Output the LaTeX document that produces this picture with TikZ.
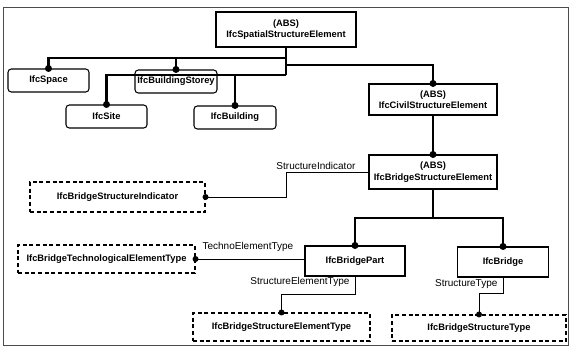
\documentclass[tikz,border=0pt]{standalone}
\usepackage{fontspec}
\setmainfont{Liberation Sans}
\usetikzlibrary{positioning,calc}

\begin{document}
\begin{tikzpicture}[x=0.75pt,y=-0.75pt,
    ent/.style={draw, line width=0.8pt, align=center, inner sep=0pt,
        font=\fontsize{7}{8.5}\selectfont\bfseries},
    entr/.style={ent, rounded corners=2.5pt},
    enttype/.style={ent, dash pattern=on 3pt off 2pt},
    inh/.style={line width=2pt},
    attr/.style={line width=0.6pt},
    lbl/.style={font=\fontsize{7.5}{9}\selectfont, inner sep=1pt}]
    \useasboundingbox (0,0) rectangle (570,347);
    \draw[line width=0.5pt, black!70] (3,7) rectangle (568,345);

    % entities
    \node[ent, minimum width=105pt, minimum height=26.25pt] (spatial) at (286,29.5) {(ABS)\\IfcSpatialStructureElement};
    \node[entr, minimum width=60.75pt, minimum height=17.25pt] (space) at (48.5,80.5) {IfcSpace};
    \node[entr, minimum width=61.5pt, minimum height=17.25pt] (storey) at (176,81.5) {IfcBuildingStorey};
    \node[entr, minimum width=60.75pt, minimum height=17.25pt] (site) at (106.5,116.5) {IfcSite};
    \node[entr, minimum width=61.5pt, minimum height=17.25pt] (building) at (235,117.5) {IfcBuilding};
    \node[ent, minimum width=96pt, minimum height=23.25pt] (civil) at (433,99.5) {(ABS)\\IfcCivilStructureElement};
    \node[ent, minimum width=96pt, minimum height=25.5pt] (bse) at (433,172) {(ABS)\\IfcBridgeStructureElement};
    \node[ent, minimum width=75pt, minimum height=22.5pt] (part) at (355,261) {IfcBridgePart};
    \node[ent, minimum width=68.25pt, minimum height=22.5pt] (bridge) at (503,262) {IfcBridge};
    \node[enttype, minimum width=131.25pt, minimum height=22.5pt] (indicator) at (117.5,197) {IfcBridgeStructureIndicator};
    \node[enttype, minimum width=132.75pt, minimum height=21pt] (techno) at (106.5,259) {IfcBridgeTechnologicalElementType};
    \node[enttype, minimum width=132.75pt, minimum height=21pt] (setype) at (281.5,327) {IfcBridgeStructureElementType};
    \node[enttype, minimum width=130.5pt, minimum height=19.5pt] (stype) at (479,328) {IfcBridgeStructureType};

    % subtype tree
    \coordinate (hub) at (286,75);
    \coordinate (fork) at (433,218);
    \draw[inh] (spatial.south) -- (spatial.south |- hub);
    \draw[inh] (spatial.south |- 0,58) -| (space.north);
    \draw[inh] (storey.north |- 0,58) -- (storey.north);
    \draw[inh] (spatial.south |- 0,65) -| (civil.north);
    \draw[inh] (hub) -| (site.north);
    \draw[inh] (building.north |- hub) -- (building.north);
    \draw[inh] (civil.south) -- (bse.north);
    \draw[inh] (bse.south) -- (fork);
    \draw[inh] (part.north) |- (fork) -| (bridge.north);
    \foreach \n in {space,storey,site,building,civil,bse,part,bridge}
        \fill (\n.north) circle[radius=3.5];

    % attributes
    \draw[attr] (bse.west) -- ++(-82,0) |- (indicator.east);
    \draw[attr] (techno.east) -- (techno.east -| part.west);
    \draw[attr] (part.south) -- ++(0,18) -| (setype.north);
    \draw[attr] (bridge.south) -- ++(0,16) -| (stype.north);
    \foreach \n in {indicator.east,techno.east,setype.north,stype.north}
        \fill (\n) circle[radius=3];
    \node[lbl, anchor=south east] (indlbl) at (357,171) {StructureIndicator};
    \node[lbl, anchor=south west] (technolbl) at (201,253) {TechnoElementType};
    \node[lbl, anchor=east] (setypelbl) at (351,282) {StructureElementType};
    \node[lbl, anchor=east] (stypelbl) at (499,284) {StructureType};
\end{tikzpicture}
\end{document}
